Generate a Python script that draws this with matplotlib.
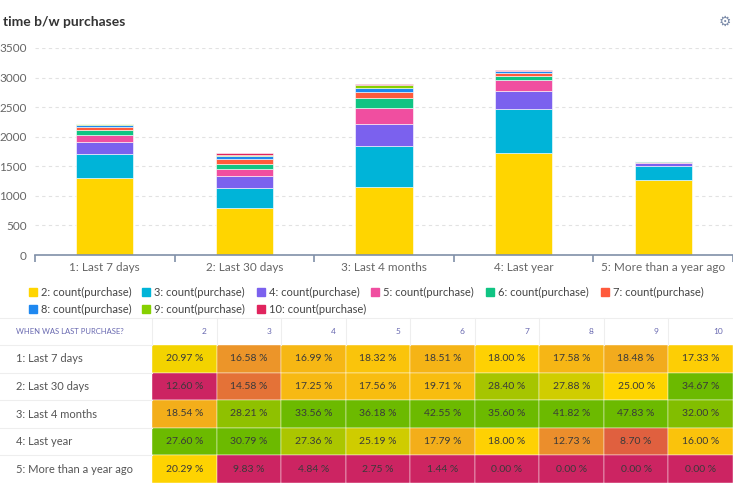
import matplotlib
matplotlib.use("Agg")
import matplotlib.pyplot as plt
import numpy as np
from matplotlib.colors import LinearSegmentedColormap
from matplotlib.patches import Rectangle

plt.rcParams["font.family"] = ["Lato", "DejaVu Sans"]

categories = ["1: Last 7 days", "2: Last 30 days", "3: Last 4 months", "4: Last year", "5: More than a year ago"]
series_names = ["2", "3", "4", "5", "6", "7", "8", "9", "10"]
series_colors = ["#ffd500", "#00b4d8", "#7b61ee", "#f04ea0", "#10c483", "#ff5a3c", "#1e88f0", "#86d000", "#e0245e"]

# counts per series (rows: series 2..10, cols: categories)
counts = [
    [1310, 787, 1158, 1724, 1267],
    [402, 354, 684, 747, 238],
    [191, 194, 377, 308, 54],
    [131, 126, 259, 180, 20],
    [74, 79, 170, 71, 6],
    [51, 80, 100, 51, 0],
    [32, 51, 75, 23, 0],
    [17, 23, 44, 8, 0],
    [13, 26, 24, 12, 0],
]

table_header = "WHEN WAS LAST PURCHASE?"
pct_2 = [20.97, 12.60, 18.54, 27.60, 20.29]
pct_3 = [16.58, 14.58, 28.21, 30.79, 9.83]
pct_4 = [16.99, 17.25, 33.56, 27.36, 4.84]
pct_5 = [18.32, 17.56, 36.18, 25.19, 2.75]
pct_6 = [18.51, 19.71, 42.55, 17.79, 1.44]
pct_7 = [18.00, 28.40, 35.60, 18.00, 0.00]
pct_8 = [17.58, 27.88, 41.82, 12.73, 0.00]
pct_9 = [18.48, 25.00, 47.83, 8.70, 0.00]
pct_10 = [17.33, 34.67, 32.00, 16.00, 0.00]
pct_cols = [pct_2, pct_3, pct_4, pct_5, pct_6, pct_7, pct_8, pct_9, pct_10]

W, H = 733, 483
fig = plt.figure(figsize=(W / 100, H / 100), dpi=100)

# ---- bar chart ----
ax = fig.add_axes([35 / W, (H - 255) / H, 698 / W, 207 / H])
x = np.arange(len(categories))
bottom = np.zeros(len(categories))
for vals, col in zip(counts, series_colors):
    ax.bar(x, vals, bottom=bottom, width=0.41, color=col, edgecolor="white", linewidth=0.4)
    bottom += np.array(vals)
ax.set_xlim(-0.5, len(categories) - 0.5)
ax.set_ylim(0, 3500)
ax.set_yticks(range(0, 3501, 500))
ax.tick_params(axis="y", length=0, labelsize=8.5, labelcolor="#666666", pad=6)
ax.set_xticks(x)
ax.set_xticklabels(categories, fontsize=8.5, color="#666666")
ax.tick_params(axis="x", length=0, pad=5)
ax.set_xticks(np.arange(-0.5, len(categories)), minor=True)
ax.tick_params(axis="x", which="minor", length=5, color="#8090a8", width=1.2)
ax.grid(axis="y", linestyle=(0, (3, 3)), color="#e2e2e2", linewidth=0.8)
ax.set_axisbelow(True)
for s in ["top", "right", "left"]:
    ax.spines[s].set_visible(False)
ax.spines["bottom"].set_color("#8090a8")
ax.spines["bottom"].set_linewidth(1.2)

fig.text(3 / W, 1 - 22 / H, "time b/w purchases", fontsize=10, weight="bold", color="#333333", va="center")
fig.text(725 / W, 1 - 22 / H, "\u2699", fontsize=10, color="#7a8aa8", ha="center", va="center",
         family="DejaVu Sans")

# ---- overlay axes in pixel coords ----
ov = fig.add_axes([0, 0, 1, 1])
ov.set_xlim(0, W)
ov.set_ylim(H, 0)
ov.axis("off")

# legend
leg_x = [33, 146, 261, 375, 490, 605]
for i, (name, col) in enumerate(zip(series_names, series_colors)):
    lx = leg_x[i % 6]
    ly = 292 if i < 6 else 309
    ov.add_patch(Rectangle((lx - 4, ly - 4), 8, 8, color=col))
    ov.text(lx + 8, ly, f"{name}: count(purchase)", fontsize=8, color="#444444", va="center")

# table
cmap = LinearSegmentedColormap.from_list("heat", [
    (0.0, "#cc2462"), (0.18, "#e0603f"), (0.35, "#efa024"), (0.52, "#ffd500"),
    (0.75, "#b5c800"), (1.0, "#6cba00")])
top, head_h, row_h = 318, 27, 27.6
col0 = 152
col_w = (W - col0) / len(series_names)
ov.plot([0, W], [top, top], color="#eeeeee", lw=0.8)
ov.text(16, top + head_h / 2, table_header, fontsize=5.5, color="#6868b0", va="center")
for j, name in enumerate(series_names):
    cx = col0 + j * col_w
    ov.plot([cx, cx], [top, top + head_h], color="#eeeeee", lw=0.8)
    ov.text(cx + col_w - 10, top + head_h / 2, name, fontsize=6, color="#6868b0", ha="right", va="center")
for i, cat in enumerate(categories):
    ry = top + head_h + i * row_h
    ov.plot([0, col0], [ry, ry], color="#eeeeee", lw=0.8)
    ov.text(16, ry + row_h / 2, cat, fontsize=8, color="#555555", va="center")
    for j, col in enumerate(pct_cols):
        lo, hi = min(col), max(col)
        t = (col[i] - lo) / (hi - lo)
        cx = col0 + j * col_w
        ov.add_patch(Rectangle((cx, ry), col_w, row_h, facecolor=cmap(t), edgecolor="#ffffff", lw=0.3))
        ov.text(cx + col_w / 2, ry + row_h / 2, f"{col[i]:.2f} %", fontsize=7.5, color="#3a3a3a",
                ha="center", va="center")

fig.savefig("out.png", dpi=100)
